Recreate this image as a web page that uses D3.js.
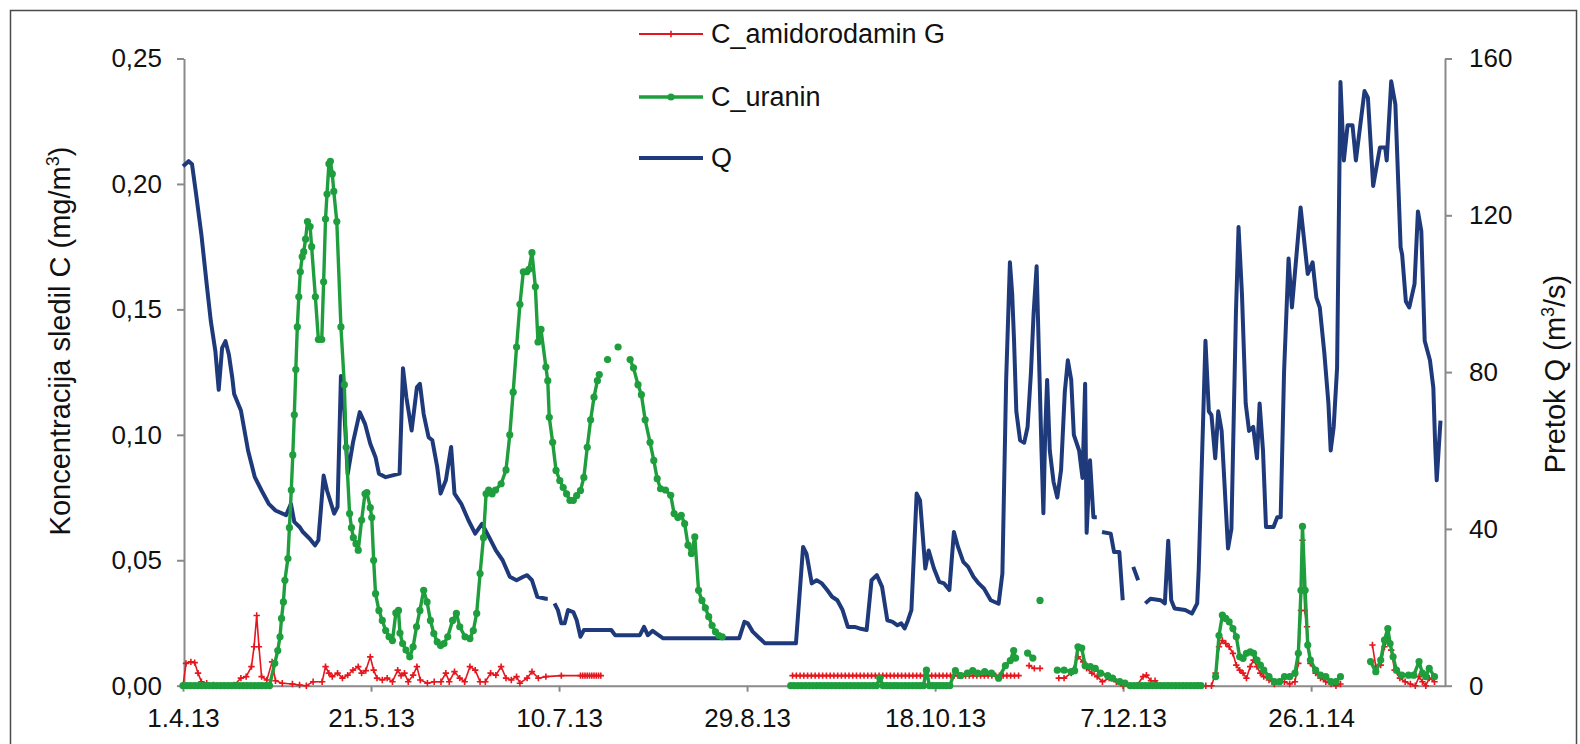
<!DOCTYPE html>
<html>
<head>
<meta charset="utf-8">
<script src="https://cdn.jsdelivr.net/npm/d3@7"></script>
<style>
  body { margin: 0; background: #fff; }
  svg { display: block; font-family: "Liberation Sans", Arial, sans-serif; }
</style>
</head>
<body>
<svg id="chart" width="1580" height="744"></svg>
<script>
// days are counted from 1.4.13, null = break in the series
var flowQ = [
  [0,132.5],[1.5,133.8],[2.4,133],[3.5,125.3],[4.9,115],[6.3,102.4],[7.4,93],[8.6,85.4],[9.5,75.5],[10.4,86.2],
  [11.3,87.9],[12.2,84.5],[13.1,78.6],[13.6,74.4],[15.4,70.2],[17.3,60],[19.1,53.2],[20.9,49.8],[22.8,46.4],[24.6,44.7],
  [27.4,43.5],[28.7,46.4],[29.6,41.8],[31,40.5],[31.9,39.2],[33.7,37.5],[35.1,35.8],[36,37.1],[37.4,53.6],[38.3,49.8],
  [40.2,43.9],[41.1,45.6],[42,79],[42.9,70],[43.8,54],[45.2,62],[47,69.8],[48.4,66.8],[49.8,61.7],[51.2,58.3],
  [52.1,54.1],[53.9,53.2],[57.6,54.1],[58.5,81],[59.4,73.6],[60.8,65.1],[62.2,76.1],[63,77],[64,69.3],[65.3,63.4],
  [66.3,62.6],[67.6,55.8],[68.5,49],[69.9,52.4],[71.3,60.9],[72.2,49],[74,46.4],[75.9,42.2],[77.7,38.8],[79.5,41.3],
  [81.4,37.9],[83.2,34.5],[85,32],[86.9,27.8],[88.7,26.9],[90.5,27.8],[91.5,28.2],[92.8,26.9],[94.2,22.7],[96.5,22.2],[97,22.2],
  null,
  [98.8,21],[99.7,19.3],[100.6,15.9],[101.5,15.9],[102.4,19.3],[103.8,18.8],[104.7,16.7],[105.7,12.5],[106.6,14.2],[113.9,14.2],
  [114.9,12.9],[121.5,12.9],[122.6,15],[123.6,12.9],[124.9,14],[125.9,13.3],[127.7,12.1],[147.9,12.1],[149.3,16.3],[150.2,15.9],
  [151.5,13.8],[152.9,12.5],[154.8,10.8],[163,10.8],[164.9,35.4],[165.8,33.7],[167.2,26.1],[168.5,26.9],[169.9,26.1],[171.3,24.4],
  [172.6,22.7],[174,21.8],[175.4,19.3],[176.8,15],[178.6,15],[179.9,14.6],[181.8,14.2],[183.1,26.9],[184.5,28.2],[185.9,25.2],
  [187.3,16.7],[188.7,16.3],[190,15.4],[191,15.9],[191.9,14.6],[192.8,16.7],[193.7,19.3],[195.1,49],[196,47.3],[197.4,29.9],
  [198.3,34.5],[199.7,29.9],[201.1,26.5],[202.4,26.1],[203.8,24.4],[205,39.2],[206.1,35.4],[207.5,31.6],[208.8,30.3],[210.2,27.8],
  [211.6,26.1],[213,24.8],[214.8,21.8],[216.9,20.9],[217.9,28.6],[218.9,78],[219.9,108],[220.5,100],[221,88],[221.6,70],
  [222.6,62.6],[223.7,62],[224.6,66],[225.5,80],[226.2,95],[227,107],[227.6,85],[228.3,60],[228.8,44],[229.3,65],
  [229.8,78],[230.5,60],[231.5,52],[232.5,48],[233.5,55],[234.5,75],[235.3,83],[236.2,78],[236.9,64],[238.3,60],
  [239.2,53],[239.9,77],[240.3,39],[241.2,57.5],[242.1,43],[243,43],
  null,
  [244.4,39.2],[246.7,38.8],[247.6,34.1],[249,34.1],[249.9,21.8],
  null,
  [252.7,30.3],[254,26.9],
  null,
  [255.9,21],[257.3,22.2],[260,21.8],[261.1,21],[262,37],[262.8,21.8],[263.7,19.7],[266.5,19.3],[268.3,18.4],[269.7,21],
  [270.1,29.5],[271.9,88],[272.8,70],[273.5,69],[274.5,58],[275.3,70],[276.2,65],[277.9,35],[278.8,40],[280,95],
  [280.7,117],[281.6,100],[282.6,72],[283.5,65],[284.6,66],[285.6,58],[286.3,72],[287.2,60],[288,40.5],[290,40.5],
  [291,43],[291.9,43],[292.8,80],[294,109],[294.9,96.5],[297.2,122],[299.1,105],[300.4,108],[301.4,99],[302.3,96.5],
  [303.5,85],[304.6,72],[305.2,60],[306,66],[306.9,81],[307.8,154],[308.7,134],[309.7,143],[311,143],[311.9,134],
  [314.2,151.7],[315.1,150],[316.5,127.5],[318.3,137.3],[319.7,137.3],[320.1,134],[321.3,154.2],[322.4,148.3],[323.8,111.8],[324.2,110],
  [325.2,98],[326.1,96.5],[327.5,102.5],[328.4,121],[329.3,116],[330.2,88],[331.6,83],[332.5,76],[333,61],[333.4,52.4],[334.4,67.6]
];

var uranin = [
  [0,0],[1,0],[2,0],[3,0],[4,0],[5,0],[6,0],[7,0],[8,0],[9,0],[10,0],[11,0],[12,0],[13,0],[14,0],[15,0],
  [16,0],[17,0],[18,0],[19,0],[20,0],[21,0],[22,0],[23,0],
  [24.4,0.0089],[25.2,0.014],[25.8,0.0195],[26.2,0.0268],[26.7,0.0334],[27.1,0.042],[27.9,0.0507],[28.3,0.063],[28.8,0.078],[29.2,0.092],
  [29.6,0.108],[30,0.126],[30.4,0.143],[30.8,0.155],[31.2,0.165],[31.7,0.171],[32.1,0.173],[32.6,0.178],[33.1,0.185],[33.8,0.183],
  [34.2,0.175],[35.2,0.155],[36,0.138],[36.9,0.138],[37.4,0.161],[37.9,0.186],[38.3,0.196],[38.8,0.208],[39.2,0.209],[39.7,0.204],
  [40.1,0.197],[40.9,0.185],[42,0.143],[42.9,0.12],[43.4,0.095],[44.3,0.0686],[44.8,0.063],[45.3,0.059],[46,0.0566],[46.6,0.054],
  [47.5,0.066],[48.4,0.0765],[48.9,0.077],[49.8,0.071],[50.2,0.067],[50.7,0.05],[51.2,0.0367],[52.1,0.03],[53,0.026],[53.9,0.022],
  [54.8,0.0195],[55.7,0.018],[56.6,0.029],[57.3,0.03],[57.7,0.021],[58.4,0.0168],[59.3,0.0142],[60.3,0.0115],[61.2,0.0155],[62.1,0.0235],
  [63,0.03],[64,0.038],[64.9,0.0334],[65.8,0.026],[66.7,0.0208],[67.6,0.0175],[68.5,0.016],[69.4,0.0168],[70.4,0.0195],[71.7,0.026],
  [72.7,0.0288],[73.6,0.0235],[75,0.0195],[76.3,0.0188],[77.2,0.022],[78.1,0.0288],[79,0.0447],[79.9,0.059],[80.6,0.0765],[81.3,0.078],
  [82.2,0.0765],[83.1,0.078],[84.6,0.0805],[85.9,0.086],[86.9,0.1],[87.8,0.117],[88.7,0.135],[89.6,0.152],[90.5,0.165],[91.4,0.165],
  [92,0.166],[92.8,0.1726],[93.7,0.159],[94.4,0.137],[95.2,0.142],[96.5,0.127],[97,0.1216],[97.4,0.107],[98.3,0.097],[99.2,0.0858],
  [100.2,0.0818],[101.1,0.079],[102,0.0765],[102.9,0.0739],[103.8,0.0739],[104.7,0.0758],[105.7,0.0778],[106.6,0.083],[107.5,0.095],[108.4,0.106],
  [109.3,0.115],[110.2,0.1216],[110.7,0.124],
  null, [112.9,0.13], null, [115.7,0.135], null,
  [118.9,0.13],[119.8,0.1267],[121,0.12],[121.9,0.116],[122.9,0.106],[124.2,0.097],[125.2,0.0898],[126.1,0.0825],[127,0.0785],[128.3,0.078],
  [129.7,0.0759],[130.6,0.0686],[131.6,0.067],[132.5,0.0679],[133.4,0.0646],[134.3,0.056],[135.2,0.0527],[136.1,0.0593],[137.1,0.038],[138,0.034],
  [138.9,0.031],[139.8,0.0275],[140.7,0.024],[141.6,0.0215],[142.5,0.02],[143.4,0.0195],
  null,
  [161.6,0],[162.5,0],[163.5,0],[164.5,0],[165.5,0],[166.5,0],[167.5,0],[168.5,0],[169.5,0],[170.5,0],[171.5,0],[172.5,0],
  [173.5,0],[174.5,0],[175.5,0],[176.5,0],[177.5,0],[178.5,0],[179.5,0],[180.5,0],[181.5,0],[182.5,0],[183.5,0],[184.4,0],
  [185.3,0.003],[186.2,0],[187.1,0],[188,0],[189,0],[190,0],[191,0],[192,0],[193,0],[194,0],[195,0],[196,0],[196.9,0],
  [197.7,0.0062],[198.5,0],[199.4,0],[200.3,0],[201.2,0],[202.1,0],[203,0],[203.9,0],
  [205.4,0.006],[206.8,0.004],[208.6,0.005],[210,0.006],[211.3,0.005],[213.2,0.0056],[215,0.005],[216.9,0.003],[218.7,0.008],[220,0.01],
  [220.9,0.014],[221.4,0.011],
  null, [224.6,0.013],[226,0.011], null, [227.9,0.034], null,
  [232.5,0.0062],[234.3,0.0062],[236.2,0.0056],[237.1,0.006],[238,0.0155],[239,0.015],[239.9,0.008],[241.3,0.0076],[242.6,0.0069],[244,0.005],
  [245.9,0.004],[247.2,0.003],[249.1,0.0016],[250.5,0.001],[251.9,0],[252.9,0],[253.9,0],[254.9,0],[255.9,0],[256.9,0],
  [257.9,0],[258.9,0],[259.9,0],[260.9,0],[261.9,0],[262.9,0],[263.9,0],[264.9,0],[265.9,0],[266.9,0],[267.9,0],[268.9,0],
  [269.8,0],[270.7,0],
  null,
  [274.6,0.0036],[275.5,0.02],[276.4,0.0281],[277.3,0.0268],[278.2,0.0255],[279.2,0.0228],[280.1,0.0195],[281,0.0115],[281.9,0.0109],[282.8,0.0129],
  [283.8,0.0135],[284.7,0.0129],[285.6,0.0102],[286.5,0.0082],[287.4,0.0062],[288.8,0.0036],[290.2,0.0016],[291.6,0.0016],[292.9,0.0036],[294.3,0.0036],
  [295.7,0.005],[296.6,0.0129],[297.3,0.038],[297.7,0.0635],[298.4,0.038],[299.1,0.0162],[299.8,0.0102],[301.2,0.0062],[302.5,0.0042],[303.9,0.0036],
  [305.3,0.0016],[306.6,0.0016],[307.8,0.0036],
  null,
  [315.8,0.0096],[317.2,0.0056],[318.5,0.0102],[319.5,0.0182],[320.4,0.0228],[321,0.0168],[321.8,0.0115],[322.7,0.0062],[324.1,0.0042],[325.9,0.0042],
  [327.3,0.0042],[328.7,0.0096],[329.6,0.005],[330.5,0.0036],[331.4,0.0069],[332.8,0.0036]
];

var amidorodamin = [
  [0,0],[0.8,0.0089],[2.1,0.0095],[3.1,0.0092],[4,0.005],[4.9,0.0016],[6.3,0.001],[8.1,0.0003],[10.8,0],[13.6,0.0003],
  [15.4,0.003],[16.8,0.0036],[18.2,0.0076],[18.9,0.0155],[19.6,0.028],[20.2,0.0155],[20.9,0.0036],[22.3,0.0023],[23.7,0.0095],[24.6,0.002],
  [26.4,0.001],[29.1,0.0007],[31,0.0003],[32.8,0],[34.6,0.0016],[37,0.0016],[37.9,0.0076],[38.8,0.005],[39.7,0.0036],[41.1,0.005],
  [42.4,0.003],[43.8,0.0042],[45.2,0.0062],[46.6,0.0076],[47.5,0.005],[48.6,0.006],[49.8,0.0115],[50.7,0.0062],[51.6,0.003],[53,0.0023],
  [54.3,0.003],[55.7,0.0016],[57.1,0.0062],[58,0.004],[58.9,0.005],[59.9,0.0016],[61.2,0.0042],[62.2,0.0076],[63.1,0.0023],[65,0.001],
  [66.8,0.0016],[68.6,0.0016],[69.9,0.005],[70.8,0.0016],[72.2,0.0056],[73.6,0.003],[74.9,0.0016],[76.3,0.0076],[77.7,0.0062],[79,0.0016],
  [80.4,0.0016],[81.8,0.005],[83.2,0.0042],[84.6,0.0076],[85.9,0.003],[87.3,0.0023],[88.7,0.0036],[89.6,0.001],[91.5,0.003],[92.8,0.0056],
  [94.5,0.003],[96.5,0.0036],[100.6,0.004],[105.7,0.004],[106.3,0.004],[106.9,0.004],[107.5,0.004],[108.1,0.004],[108.7,0.004],[109.3,0.004],
  [109.9,0.004],[110.5,0.004],[111.1,0.004],
  null,
  [162.1,0.004],[163.1,0.004],[164.1,0.004],[165.1,0.004],[166.1,0.004],[167.1,0.004],[168.1,0.004],[169.1,0.004],[170.1,0.004],[171.1,0.004],
  [172.1,0.004],[173.1,0.004],[174.1,0.004],[175.1,0.004],[176.1,0.004],[177.1,0.004],[178.1,0.004],[179.1,0.004],[180.1,0.004],[181.1,0.004],
  [182.1,0.004],[183.1,0.004],[184.1,0.004],[185.1,0.004],[186.1,0.004],[187.1,0.004],[188.1,0.004],[189.1,0.004],[190.1,0.004],[191.1,0.004],
  [192.1,0.004],[193.1,0.004],[194.1,0.004],[195.1,0.004],[196.1,0.004],[197.1,0.004],[198.1,0.004],[199.1,0.004],[200.1,0.004],[201.1,0.004],
  [202.1,0.004],[203.1,0.004],[204.1,0.004],[205.1,0.004],[206.1,0.004],[207.1,0.004],[208.1,0.004],[209.1,0.004],[210.1,0.004],[211.1,0.004],
  [212.1,0.004],[213.1,0.004],[214.1,0.004],[215.1,0.004],[216.1,0.004],[217.1,0.004],[218.1,0.004],[219.1,0.004],[220.1,0.004],[221.1,0.004],
  [222.2,0.004],
  null, [225,0.008],[226.4,0.0069], null, [227.9,0.0069], null,
  [232.9,0.003],[234.3,0.003],[236.2,0.005],[238,0.0115],[239.4,0.0095],[240.3,0.0069],[241.7,0.005],[243.1,0.0036],[244.5,0.0016],[246.3,0.003],
  [248.2,0.0016],[250,0],[252,0],[253.6,0],[255.3,0.0036],[256.2,0.0042],[257.4,0.002],[258.5,0.002],[260,0],[262,0],
  [264,0],[266,0],[268,0],[270,0],[272,0],[273.5,0],[274.6,0.005],[275.5,0.0155],[276.4,0.018],[277.3,0.0168],
  [278.2,0.0155],[279.2,0.0129],[280.1,0.0082],[281,0.0062],[281.9,0.005],[282.8,0.003],[283.8,0.0076],[284.7,0.0102],[285.6,0.0076],[286.5,0.005],
  [287.4,0.0036],[288.8,0.0023],[290.2,0.0007],[291.6,0.0016],[292.9,0.0016],[294.3,0.0007],[295.7,0.0016],[296.6,0.0089],[297.3,0.03],[297.7,0.058],
  [298.3,0.03],[298.9,0.0235],[299.8,0.0089],[301.2,0.005],[302.5,0.003],[303.9,0.0016],[305.3,0.0007],[306.6,0],[307.8,0.0007],
  null,
  [316.3,0.0162],[317.2,0.0076],[318.5,0.0082],[319.5,0.0155],[320.4,0.0188],[321.3,0.0142],[322.2,0.0062],[323.6,0.003],[325,0.0016],[326.4,0.0007],
  [327.7,0],[328.7,0.0036],[329.6,0.0016],[330.5,0],[331.4,0.003],[332.8,0.0016]
];

var xTickDays = [0, 50, 100, 150, 200, 250, 300];
var xTickLabels = ["1.4.13", "21.5.13", "10.7.13", "29.8.13", "18.10.13", "7.12.13", "26.1.14"];
var cTicks = [0, 0.05, 0.10, 0.15, 0.20, 0.25];
var cTickLabels = ["0,00", "0,05", "0,10", "0,15", "0,20", "0,25"];
var qTicks = [0, 40, 80, 120, 160];
var legendNames = ["C_amidorodamin G", "C_uranin", "Q"];

var RED = "#e5161d", GREEN = "#1e9e3c", NAVY = "#1f3a7b", AXIS = "#8a8a8a";

var t0 = Date.UTC(2013, 3, 1);
function toDate(d) { return new Date(t0 + d * 864e5); }

var svg = d3.select("#chart");

// frame
svg.append("rect")
  .attr("x", 10.5).attr("y", 10.5).attr("width", 1566).attr("height", 745)
  .attr("fill", "none").attr("stroke", "#4a4a4a").attr("stroke-width", 1.5);

var x = d3.scaleUtc().domain([toDate(0), toDate(335.6)]).range([183, 1445]);
var yC = d3.scaleLinear().domain([0, 0.25]).range([685.7, 58.5]);
var yQ = d3.scaleLinear().domain([0, 160]).range([685.7, 58.5]);

function styleAxis(g) {
  g.select(".domain").attr("stroke", AXIS).attr("stroke-width", 2);
  g.selectAll(".tick line").attr("stroke", AXIS).attr("stroke-width", 2);
  g.selectAll(".tick text").attr("fill", "#111").attr("font-size", 26);
}

var gx = svg.append("g").attr("transform", "translate(0,685.7)")
  .call(d3.axisBottom(x).tickValues(xTickDays.map(toDate))
    .tickFormat(function(d, i) { return xTickLabels[i]; })
    .tickSize(6).tickSizeOuter(0).tickPadding(17));
styleAxis(gx);

var gl = svg.append("g").attr("transform", "translate(184,0)")
  .call(d3.axisLeft(yC).tickValues(cTicks)
    .tickFormat(function(d, i) { return cTickLabels[i]; })
    .tickSize(7).tickSizeOuter(0).tickPadding(15));
styleAxis(gl);

var gr = svg.append("g").attr("transform", "translate(1445,0)")
  .call(d3.axisRight(yQ).tickValues(qTicks).tickSize(7).tickSizeOuter(0).tickPadding(17));
styleAxis(gr);

// axis titles
var tl = svg.append("text").attr("transform", "translate(70,341) rotate(-90)")
  .attr("text-anchor", "middle").attr("font-size", 29).attr("fill", "#111");
tl.append("tspan").text("Koncentracija sledil C (mg/m");
tl.append("tspan").attr("font-size", 18).attr("dy", -11).text("3");
tl.append("tspan").attr("dy", 11).text(")");

var tr = svg.append("text").attr("transform", "translate(1565,374) rotate(-90)")
  .attr("text-anchor", "middle").attr("font-size", 29).attr("fill", "#111");
tr.append("tspan").text("Pretok Q (m");
tr.append("tspan").attr("font-size", 18).attr("dy", -11).text("3");
tr.append("tspan").attr("dy", 11).text("/s)");

var plot = svg.append("g");

function lineFor(yScale) {
  return d3.line()
    .defined(function(p) { return p !== null; })
    .x(function(p) { return x(toDate(p[0])); })
    .y(function(p) { return yScale(p[1]); });
}

function crossPath(s) { return "M" + (-s) + ",0H" + s + "M0," + (-s) + "V" + s; }

// Q
plot.append("path").datum(flowQ)
  .attr("d", lineFor(yQ))
  .attr("fill", "none").attr("stroke", NAVY).attr("stroke-width", 4)
  .attr("stroke-linejoin", "round");

// amidorodamin G
plot.append("path").datum(amidorodamin)
  .attr("d", lineFor(yC))
  .attr("fill", "none").attr("stroke", RED).attr("stroke-width", 1.6);
plot.append("g").selectAll("path")
  .data(amidorodamin.filter(function(p) { return p !== null; }))
  .enter().append("path")
  .attr("transform", function(p) { return "translate(" + x(toDate(p[0])) + "," + yC(p[1]) + ")"; })
  .attr("d", crossPath(3.2))
  .attr("stroke", RED).attr("stroke-width", 1.6);

// uranin
plot.append("path").datum(uranin)
  .attr("d", lineFor(yC))
  .attr("fill", "none").attr("stroke", GREEN).attr("stroke-width", 3.4)
  .attr("stroke-linejoin", "round");
plot.append("g").selectAll("circle")
  .data(uranin.filter(function(p) { return p !== null; }))
  .enter().append("circle")
  .attr("cx", function(p) { return x(toDate(p[0])); })
  .attr("cy", function(p) { return yC(p[1]); })
  .attr("r", 3.6)
  .attr("fill", GREEN);

// legend
var legendColors = [RED, GREEN, NAVY];
var legendY = [34, 97, 158];
var lg = svg.append("g");
legendNames.forEach(function(name, i) {
  var row = lg.append("g").attr("transform", "translate(0," + legendY[i] + ")");
  row.append("line").attr("x1", 639).attr("x2", 703).attr("y1", 0).attr("y2", 0)
    .attr("stroke", legendColors[i]).attr("stroke-width", i === 0 ? 1.8 : (i === 1 ? 3.4 : 4));
  if (i === 0) {
    row.append("path").attr("transform", "translate(671,0)").attr("d", crossPath(3.2))
      .attr("stroke", RED).attr("stroke-width", 1.6);
  } else if (i === 1) {
    row.append("circle").attr("cx", 671).attr("cy", 0).attr("r", 3.6).attr("fill", GREEN);
  }
  row.append("text").attr("x", 711).attr("y", 0).attr("dy", "0.35em")
    .attr("font-size", 27).attr("fill", "#111").text(name);
});
</script>
</body>
</html>
